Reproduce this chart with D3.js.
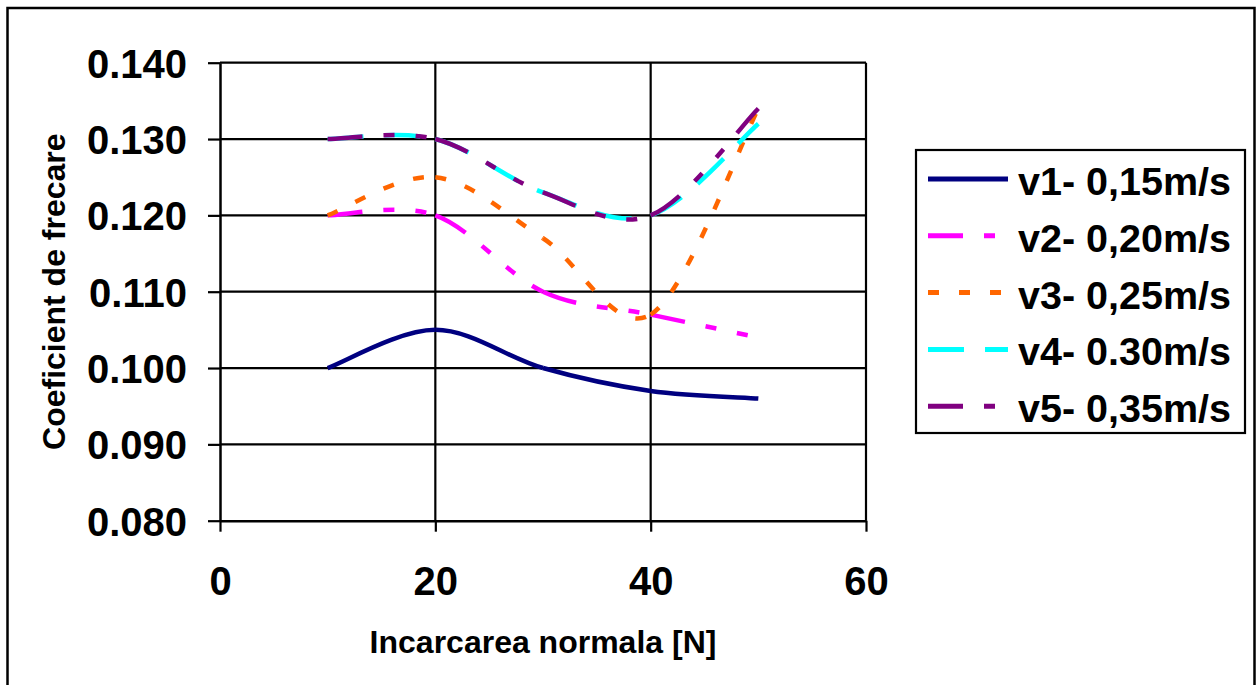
<!DOCTYPE html>
<html>
<head>
<meta charset="utf-8">
<script src="https://cdn.jsdelivr.net/npm/d3@7"></script>
<style>
  html, body { margin: 0; padding: 0; background: #fff; }
  svg { display: block; }
  text { font-family: "Liberation Sans", Arial, sans-serif; font-weight: bold; fill: #000; }
</style>
</head>
<body>
<svg id="chart" width="1256" height="685"></svg>
<script>
// ---- data ----
const loads = [10, 20, 30, 40, 50];
const v1 = [0.100, 0.105, 0.100, 0.097, 0.096];
const v2 = [0.120, 0.120, 0.110, 0.107, 0.104];
const v3 = [0.120, 0.125, 0.117, 0.107, 0.134];
const v4 = [0.130, 0.130, 0.123, 0.120, 0.132];
const v5 = [0.130, 0.130, 0.123, 0.120, 0.134];
const seriesNames = ["v1- 0,15m/s", "v2- 0,20m/s", "v3- 0,25m/s", "v4- 0.30m/s", "v5- 0,35m/s"];
const xTicks = [0, 20, 40, 60];
const yTicks = [0.080, 0.090, 0.100, 0.110, 0.120, 0.130, 0.140];
const xTitle = "Incarcarea normala [N]";
const yTitle = "Coeficient de frecare";

// ---- styles ----
const colors = ["#000080", "#FF00FF", "#FF6600", "#00FFFF", "#800080"];
const dashes = [null, "35,21,11,21,11,21", "11,20", "36,21", "35,21,11,21,11,21"];

const svg = d3.select("#chart");
svg.append("rect").attr("width", 1256).attr("height", 685).attr("fill", "#fff");
// outer border
svg.append("rect").attr("x", 7.5).attr("y", 8).attr("width", 1247).attr("height", 700)
  .attr("fill", "none").attr("stroke", "#000").attr("stroke-width", 2.5);

const x = d3.scaleLinear().domain([0, 60]).range([220, 866]);
const y = d3.scaleLinear().domain([0.08, 0.14]).range([520.7, 62.7]);

// gridlines
const grid = svg.append("g").attr("stroke", "#000").attr("stroke-width", 2.2);
grid.selectAll("line.h").data(yTicks.slice(1)).join("line")
  .attr("x1", x(0)).attr("x2", x(60)).attr("y1", d => y(d)).attr("y2", d => y(d));
grid.selectAll("line.v").data(xTicks.slice(1)).join("line")
  .attr("x1", d => x(d)).attr("x2", d => x(d)).attr("y1", y(0.08)).attr("y2", y(0.14));

// axes
const yAxis = svg.append("g").attr("transform", `translate(${x(0)},0)`)
  .call(d3.axisLeft(y).tickValues(yTicks).tickFormat(d3.format(".3f")).tickSize(12).tickSizeOuter(0).tickPadding(21));
const xAxis = svg.append("g").attr("transform", `translate(0,${y(0.08)})`)
  .call(d3.axisBottom(x).tickValues(xTicks).tickFormat(d3.format("d")).tickSize(11).tickSizeOuter(0).tickPadding(35));
[yAxis, xAxis].forEach(g => {
  g.select(".domain").attr("stroke", "#000").attr("stroke-width", 2.5);
  g.selectAll(".tick line").attr("stroke", "#000").attr("stroke-width", 2.2);
  g.selectAll(".tick text").attr("font-size", 40).attr("font-family", '"Liberation Sans", Arial, sans-serif')
    .attr("font-weight", "bold").attr("fill", "#000");
});
yAxis.selectAll(".tick text").attr("dy", "0.36em");

// titles
svg.append("text").attr("x", (x(0) + x(60)) / 2).attr("y", 653).attr("text-anchor", "middle")
  .attr("font-size", 32).text(xTitle);
svg.append("text").attr("transform", `translate(65,${(y(0.08) + y(0.14)) / 2}) rotate(-90)`)
  .attr("text-anchor", "middle").attr("font-size", 32).text(yTitle);

// smoothed series (Excel-like: Catmull-Rom bezier, dash pattern restarting at each point)
const allSeries = [v1, v2, v3, v4, v5];
const lines = svg.append("g").attr("fill", "none");
allSeries.forEach((vals, si) => {
  const pts = loads.map((d, i) => [d, vals[i]]);
  const n = pts.length;
  for (let i = 0; i < n - 1; i++) {
    const p0 = pts[Math.max(i - 1, 0)], p1 = pts[i], p2 = pts[i + 1], p3 = pts[Math.min(i + 2, n - 1)];
    const c1 = [p1[0] + (p2[0] - p0[0]) / 6, p1[1] + (p2[1] - p0[1]) / 6];
    const c2 = [p2[0] - (p3[0] - p1[0]) / 6, p2[1] - (p3[1] - p1[1]) / 6];
    const path = d3.path();
    path.moveTo(x(p1[0]), y(p1[1]));
    path.bezierCurveTo(x(c1[0]), y(c1[1]), x(c2[0]), y(c2[1]), x(p2[0]), y(p2[1]));
    lines.append("path").attr("d", path.toString())
      .attr("stroke", colors[si]).attr("stroke-width", 4.5)
      .attr("stroke-dasharray", dashes[si]);
  }
});

// legend
const lg = svg.append("g");
lg.append("rect").attr("x", 916).attr("y", 150).attr("width", 329).attr("height", 283)
  .attr("fill", "#fff").attr("stroke", "#000").attr("stroke-width", 2.2);
seriesNames.forEach((name, i) => {
  const ly = 179 + i * 56.8;
  lg.append("line").attr("x1", 928).attr("x2", 1008).attr("y1", ly).attr("y2", ly)
    .attr("stroke", colors[i]).attr("stroke-width", 5).attr("stroke-dasharray", dashes[i]);
  lg.append("text").attr("x", 1018).attr("y", ly + 16).attr("font-size", 39.5).text(name);
});
</script>
</body>
</html>
